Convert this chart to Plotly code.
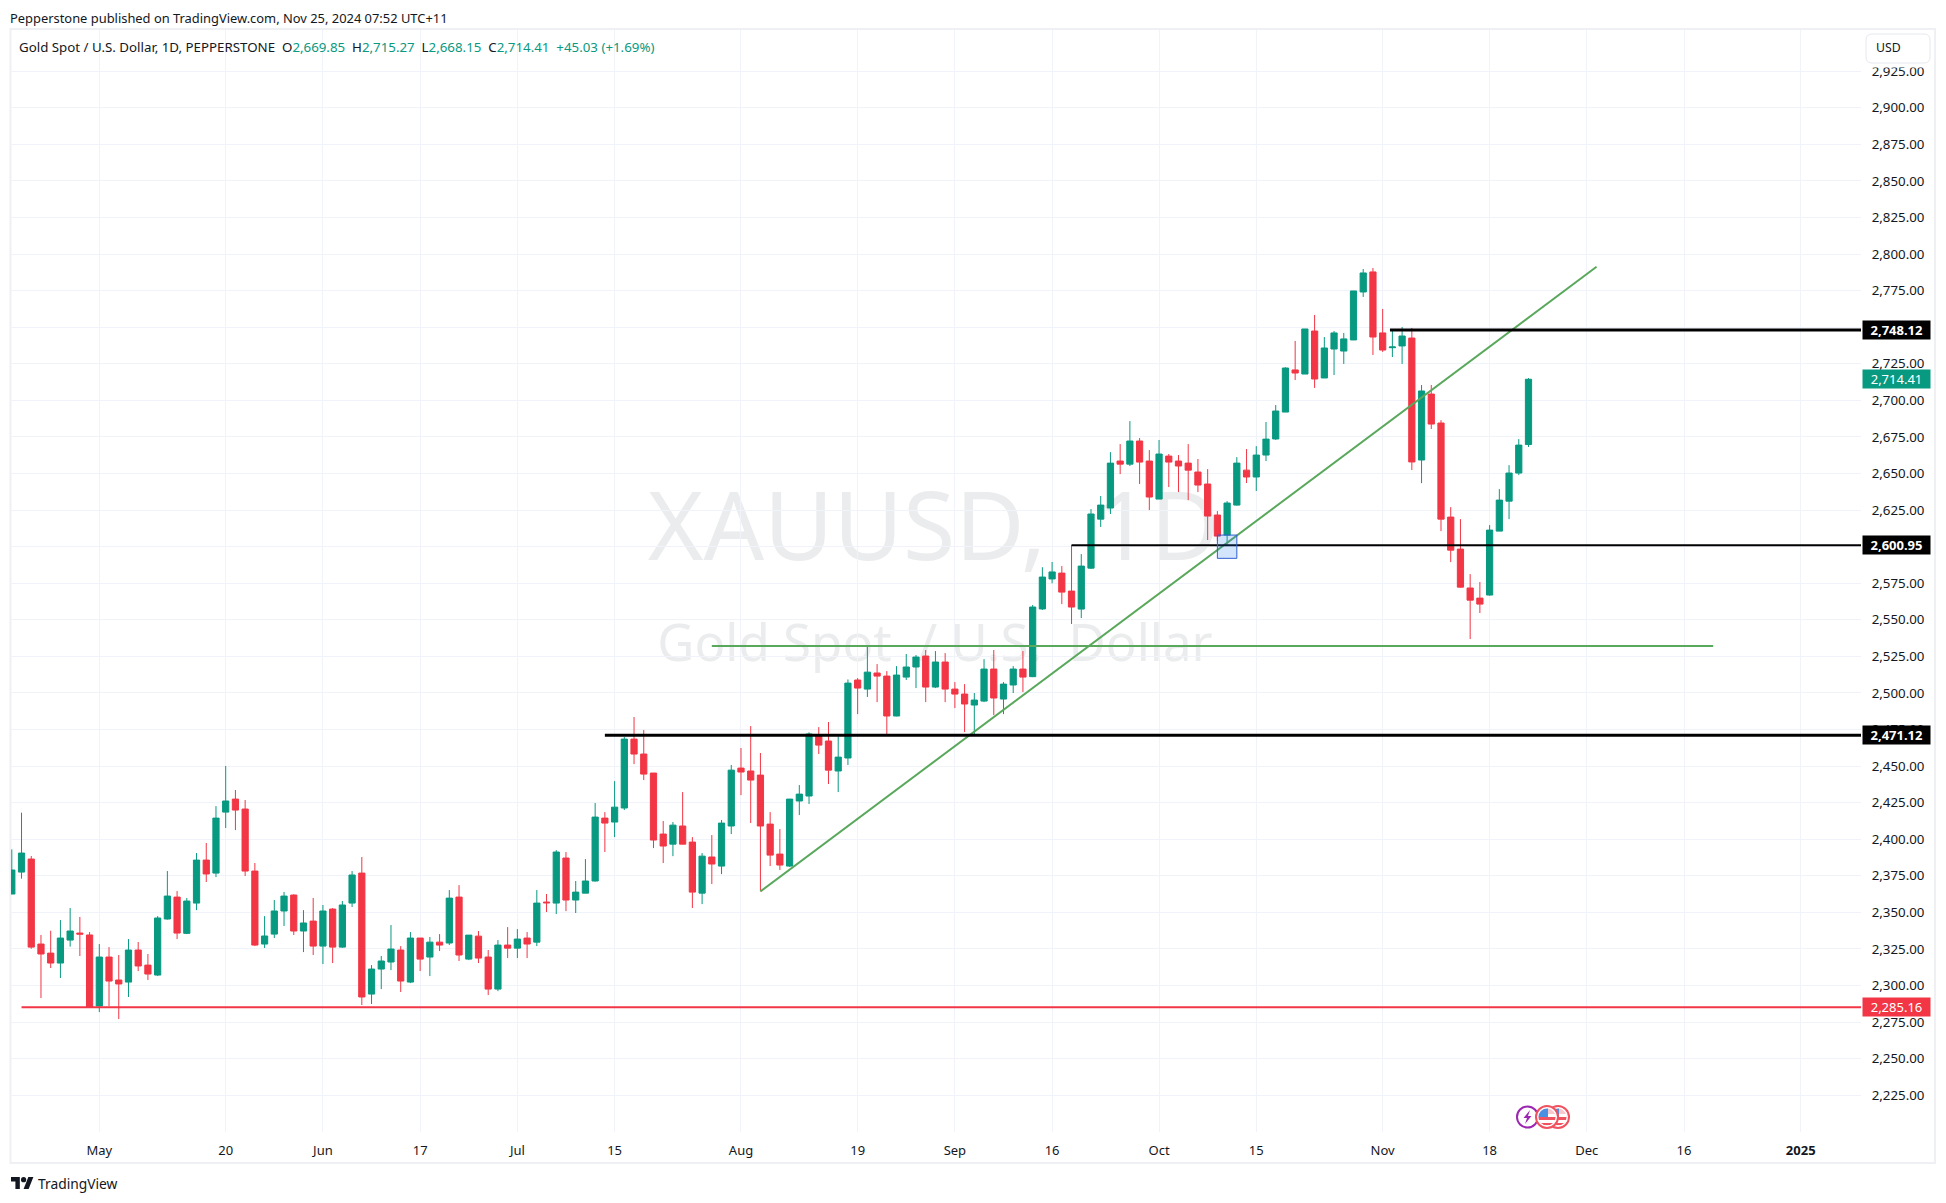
import pandas as pd
import plotly.graph_objects as go

# ---- data -----------------------------------------------------------------
open_ = [2362.5,2377.5,2386.4,2328.3,2322.1,2315.3,2331.0,2335.8,2334.5,2285.9,
2319.4,2303.7,2302.3,2324.2,2313.9,2307.1,2345.4,2360.4,2335.6,2356.3,
2385.7,2376.8,2418.5,2427.4,2420.6,2378.2,2328.3,2335.1,2350.9,2361.8,
2337.2,2344.0,2326.9,2352.2,2326.2,2356.3,2376.8,2294.1,2311.2,2316.0,
2324.2,2302.3,2332.4,2319.4,2329.6,2329.0,2360.4,2318.0,2333.7,2319.4,
2297.5,2327.6,2325.5,2332.4,2329.6,2357.0,2356.3,2387.1,2358.4,2363.1,
2371.4,2414.4,2411.7,2421.3,2468.4,2458.2,2445.2,2403.5,2396.6,2409.0,
2398.0,2363.1,2387.8,2381.6,2409.0,2448.6,2446.6,2443.8,2410.3,2389.8,
2381.6,2426.1,2429.5,2470.5,2467.1,2446.6,2455.5,2508.8,2502.6,2513.6,
2511.5,2484.2,2510.8,2517.7,2525.2,2504.0,2521.1,2502.6,2499.2,2491.7,
2494.4,2516.3,2495.8,2505.4,2516.3,2511.1,2557.4,2577.9,2581.9,2569.6,
2557.3,2585.3,2618.8,2626.4,2658.5,2656.4,2672.2,2658.5,2632.5,2661.9,
2658.5,2657.1,2651.0,2642.8,2621.6,2607.9,2628.4,2652.3,2647.6,2662.6,
2673.6,2692.0,2720.8,2718.0,2747.4,2715.3,2735.1,2733.7,2741.3,2774.1,
2787.8,2746.1,2736.0,2737.2,2742.6,2659.2,2704.3,2684.5,2620.2,2598.3,
2571.7,2564.8,2566.9,2610.6,2631.1,2650.3,2669.85]
high = [2393.0,2418.1,2388.5,2334.5,2337.4,2344.7,2352.9,2346.8,2336.5,2328.3,
2326.2,2320.8,2331.7,2329.7,2321.5,2347.4,2378.2,2364.5,2359.8,2390.5,
2397.4,2422.6,2450.0,2433.6,2426.8,2383.7,2347.4,2358.4,2363.9,2362.3,
2351.5,2359.8,2355.0,2352.9,2357.7,2378.2,2387.8,2313.9,2320.1,2341.3,
2326.9,2336.5,2332.4,2333.1,2335.1,2365.2,2368.6,2334.4,2337.2,2324.2,
2331.0,2339.9,2338.5,2336.5,2365.2,2362.5,2392.5,2391.2,2371.4,2386.4,
2424.7,2418.5,2439.7,2469.8,2483.5,2474.6,2445.2,2412.4,2411.7,2432.2,
2401.4,2390.5,2402.8,2413.1,2450.7,2462.3,2477.3,2458.9,2418.5,2406.9,
2427.4,2437.0,2473.0,2476.6,2480.1,2470.3,2509.2,2510.1,2532.0,2519.7,
2514.9,2518.3,2526.6,2525.9,2529.3,2528.6,2527.2,2507.4,2506.0,2499.9,
2523.1,2529.3,2507.4,2518.3,2528.6,2560.1,2585.9,2589.5,2586.7,2601.1,
2594.9,2625.7,2634.6,2664.6,2670.1,2685.8,2674.2,2666.0,2672.9,2663.3,
2662.6,2670.1,2659.9,2653.0,2624.3,2631.1,2661.2,2666.7,2668.7,2685.2,
2696.8,2722.6,2740.6,2748.8,2758.4,2743.3,2747.4,2746.1,2774.8,2789.8,
2790.5,2762.5,2748.1,2750.2,2749.5,2710.5,2710.5,2686.5,2627.0,2618.8,
2581.2,2575.8,2614.7,2639.3,2655.7,2673.5,2715.27]
low = [2362.5,2373.0,2325.1,2291.4,2311.9,2305.1,2326.5,2320.1,2285.0,2281.8,
2285.9,2277.0,2292.1,2309.8,2303.7,2306.4,2345.0,2331.7,2335.1,2351.5,
2370.7,2374.1,2407.6,2406.2,2374.8,2326.9,2325.6,2332.4,2340.6,2334.5,
2322.8,2320.8,2314.6,2315.3,2325.6,2353.6,2286.6,2287.3,2297.5,2310.5,
2295.5,2301.6,2309.8,2306.4,2323.5,2327.6,2316.7,2317.3,2315.3,2293.4,
2296.1,2318.7,2318.7,2318.7,2326.9,2350.2,2348.8,2350.8,2349.5,2363.1,
2371.0,2391.2,2401.4,2419.9,2451.3,2440.4,2393.9,2383.7,2388.4,2396.6,
2352.9,2355.6,2369.3,2376.1,2403.5,2430.1,2411.0,2364.3,2381.6,2378.9,
2381.0,2416.5,2424.0,2458.2,2437.7,2432.2,2450.7,2485.5,2497.2,2493.7,
2471.2,2484.0,2508.8,2503.3,2493.7,2503.3,2493.7,2489.6,2473.2,2471.2,
2493.7,2484.8,2485.5,2499.9,2500.6,2510.8,2556.7,2574.9,2560.7,2547.1,
2551.2,2584.7,2613.4,2622.3,2649.6,2655.1,2642.8,2625.0,2632.5,2640.7,
2637.3,2631.8,2637.3,2604.5,2604.0,2601.1,2628.0,2643.5,2638.0,2658.5,
2673.0,2692.0,2713.9,2718.0,2708.5,2715.3,2717.3,2724.9,2741.3,2770.7,
2731.0,2733.1,2729.6,2724.9,2652.4,2643.4,2680.4,2610.6,2589.4,2572.0,
2536.8,2554.6,2566.5,2610.6,2618.8,2648.9,2668.15]
close = [2378.9,2390.5,2326.2,2321.5,2315.3,2332.4,2337.2,2335.1,2285.2,2319.4,
2303.0,2301.0,2324.2,2313.3,2307.8,2346.1,2361.1,2335.8,2357.7,2385.7,
2376.2,2414.4,2426.1,2419.9,2378.2,2327.6,2333.8,2350.9,2361.1,2337.2,
2342.7,2326.9,2350.9,2326.2,2355.0,2375.5,2292.1,2311.2,2316.7,2324.9,
2303.0,2332.4,2318.0,2329.6,2327.6,2359.7,2320.8,2334.4,2318.7,2297.5,
2327.6,2325.5,2331.7,2328.3,2356.3,2356.5,2391.2,2358.4,2363.8,2371.4,
2415.1,2411.0,2421.9,2468.4,2458.2,2444.5,2399.4,2395.3,2409.6,2396.6,
2363.8,2388.4,2383.0,2411.0,2447.2,2445.9,2440.4,2409.0,2389.1,2382.3,
2427.4,2430.8,2471.9,2464.3,2447.2,2456.1,2506.7,2503.3,2514.2,2511.5,
2484.2,2512.2,2517.7,2524.5,2504.0,2521.1,2502.6,2499.2,2492.4,2495.1,
2516.3,2496.5,2506.0,2516.3,2510.8,2558.7,2579.2,2582.7,2568.9,2558.7,
2586.7,2622.3,2628.4,2657.1,2656.4,2672.2,2657.8,2633.9,2663.3,2657.8,
2655.1,2652.3,2642.1,2620.9,2607.2,2629.8,2657.1,2647.6,2662.6,2673.5,
2692.7,2722.1,2718.7,2748.8,2714.6,2735.8,2746.1,2742.0,2774.8,2787.1,
2743.3,2734.4,2736.5,2744.0,2657.9,2706.4,2683.8,2618.8,2597.6,2572.3,
2563.4,2560.7,2611.3,2631.8,2650.3,2669.4,2714.41]

dates = pd.bdate_range("2024-04-18", periods=len(close)) + pd.Timedelta(hours=12)

x_tick_dates = ["2024-05-01","2024-05-20","2024-06-03","2024-06-17","2024-07-01","2024-07-15",
                "2024-08-01","2024-08-19","2024-09-02","2024-09-16","2024-10-01","2024-10-15",
                "2024-11-01","2024-11-18","2024-12-02","2024-12-16","2025-01-01"]
x_tick_labels = ["May","20","Jun","17","Jul","15","Aug","19","Sep","16","Oct","15","Nov","18",
                 "Dec","16","<b>2025</b>"]
y_ticks = list(range(2225, 2950, 25))

level_high, level_mid, level_low, level_red = 2748.12, 2600.95, 2471.12, 2285.16
level_green = 2532.0
last_price = 2714.41
trend_x = ["2024-08-05 12:00", "2024-12-03 12:00"]
trend_y = [2364.3, 2791.3]
LEFT_EDGE, RIGHT_EDGE = "2024-04-18 10:00", "2025-01-09 16:48"

UP, DOWN, GREEN_LINE, GRID, INK = "#089981", "#f23645", "#5aa85c", "#f0f3fa", "#131722"
FONT = "Noto Sans"

# ---- page geometry --------------------------------------------------------
W, H = 1946, 1203
L, R, T, B = 11, 1861, 30, 1132
def px(x): return (x - L) / (R - L)
def py(y): return (B - y) / (B - T)
def poly(points):
    return "M" + " L".join(f"{px(x):.6f},{py(y):.6f}" for x, y in points) + " Z"

fig = go.Figure()
fig.add_trace(go.Candlestick(
    x=dates, open=open_, high=high, low=low, close=close,
    increasing=dict(line=dict(color=UP, width=1), fillcolor=UP),
    decreasing=dict(line=dict(color=DOWN, width=1), fillcolor=DOWN),
    whiskerwidth=0, hoverinfo="skip", showlegend=False, name="XAUUSD"))

def hline(x0, x1, y, color, width):
    fig.add_trace(go.Scatter(x=[x0, x1], y=[y, y], mode="lines", hoverinfo="skip", showlegend=False,
                             line=dict(color=color, width=width)))
hline("2024-07-29 12:00", "2024-12-19 12:00", level_green, GREEN_LINE, 2)
fig.add_trace(go.Scatter(x=trend_x, y=trend_y, mode="lines", hoverinfo="skip", showlegend=False,
                         line=dict(color=GREEN_LINE, width=2)))
hline("2024-11-04 06:00", RIGHT_EDGE, level_high, "#000000", 3)
hline("2024-09-18 12:00", RIGHT_EDGE, level_mid, "#000000", 2)
hline("2024-07-12 12:00", RIGHT_EDGE, level_low, "#000000", 3)
hline("2024-04-19 12:00", RIGHT_EDGE, level_red, DOWN, 2)

shapes = []
def rect_px(x0, y0, x1, y1, **kw):
    shapes.append(dict(type="rect", xref="paper", yref="paper", x0=px(x0), x1=px(x1), y0=py(y0), y1=py(y1), **kw))
def circle_px(cx, cy, r, **kw):
    shapes.append(dict(type="circle", xref="paper", yref="paper", x0=px(cx-r), x1=px(cx+r),
                       y0=py(cy+r), y1=py(cy-r), **kw))
def path_px(points, color):
    shapes.append(dict(type="path", xref="paper", yref="paper", path=poly(points), fillcolor=color, line=dict(width=0)))

# frame
rect_px(10.5, 29, 1935, 1163, line=dict(color="#eef0f4", width=2), layer="below")
# watermarks (drawn under the candles)
no_line = dict(width=0)
rect_px(600, 480, 1267, 580, line=no_line, fillcolor="rgba(0,0,0,0)", layer="below",
        label=dict(text="XAUUSD,\u00a0 1D", font=dict(family=FONT, size=95, color="#ebeced"),
                   textposition="middle center"))
rect_px(600, 612, 1270, 678, line=no_line, fillcolor="rgba(0,0,0,0)", layer="below",
        label=dict(text="Gold Spot\u00a0 / U.S.\u00a0 Dollar", font=dict(family=FONT, size=51, color="#ebeced"),
                   textposition="middle center"))
# position-tool box on the trend line
shapes.append(dict(type="rect", xref="x", yref="y", x0="2024-10-09 12:00", x1="2024-10-11 12:00",
                   y0=2592.0, y1=2607.9, fillcolor="rgba(33,120,243,0.2)", line=dict(color="#2f5fd0", width=1)))
# mask under the USD button that clips the top tick label, then the button
rect_px(1866, 60, 1930, 67.5, line=no_line, fillcolor="#ffffff")
x0, x1, y0, y1, r = 1866, 1930, 34, 63, 6
shapes.append(dict(type="path", xref="paper", yref="paper", fillcolor="#ffffff", line=dict(color="#e6e8ee", width=1),
    path=(f"M{px(x0+r)},{py(y0)} L{px(x1-r)},{py(y0)} Q{px(x1)},{py(y0)} {px(x1)},{py(y0+r)} "
          f"L{px(x1)},{py(y1-r)} Q{px(x1)},{py(y1)} {px(x1-r)},{py(y1)} L{px(x0+r)},{py(y1)} "
          f"Q{px(x0)},{py(y1)} {px(x0)},{py(y1-r)} L{px(x0)},{py(y0+r)} Q{px(x0)},{py(y0)} {px(x0+r)},{py(y0)} Z")))
# event icons
cy = 1117
circle_px(1527.5, cy, 10.5, fillcolor="#ffffff", line=dict(color="#9c27b0", width=2))
path_px([(1530,1110),(1523.5,1118),(1527,1118),(1525,1124),(1531.5,1116),(1528,1116)], "#9c27b0")
for cx in (1558, 1547):
    circle_px(cx, cy, 11, fillcolor="#ffffff", line=dict(color="#f0525f", width=2))
    circle_px(cx, cy, 8.5, fillcolor="#f7c9cd", line=dict(width=0))
    path_px([(cx-8.5,cy),(cx-8,cy-3),(cx-6,cy-6),(cx-3,cy-8),(cx+1,cy-8.5),(cx+1,cy)], "#4a90e2")
    path_px([(cx+1,cy-3),(cx+8,cy-3),(cx+8.5,cy),(cx+1,cy)], "#ffffff")
    path_px([(cx-8.5,cy),(cx+8.5,cy),(cx+8,cy+3),(cx-8,cy+3)], "#f0525f")
    path_px([(cx-8,cy+3),(cx+8,cy+3),(cx+6,cy+6),(cx-6,cy+6)], "#ffffff")
    path_px([(cx-6,cy+6),(cx+6,cy+6),(cx+3,cy+8),(cx-3,cy+8)], "#f0525f")
# TradingView logo
def lx(v): return 11 + v * 0.63
def ly(v): return 1177 + (v - 4) * 0.66
path_px([(lx(0),ly(4)),(lx(14),ly(4)),(lx(14),ly(22)),(lx(7),ly(22)),(lx(7),ly(11)),(lx(0),ly(11))], INK)
path_px([(lx(20),ly(22)),(lx(27.5),ly(4)),(lx(35.5),ly(4)),(lx(28),ly(22))], INK)
circle_px(lx(20), ly(8), 2.6, fillcolor=INK, line=dict(width=0))

annotations = []
def text_px(x, y, text, size, color=INK, anchor="left"):
    annotations.append(dict(xref="paper", yref="paper", x=px(x), y=py(y), text=text, showarrow=False,
                            xanchor=anchor, yanchor="middle", align="left",
                            font=dict(family=FONT, size=size, color=color)))
text_px(8, 18, "Pepperstone published on TradingView.com, Nov 25, 2024 07:52 UTC+11", 12.9)
g = lambda s: f'<span style="color:{UP}">{s}</span>'
text_px(17, 47, "Gold Spot / U.S. Dollar, 1D, PEPPERSTONE\u00a0 O" + g("2,669.85") + "\u00a0 H" + g("2,715.27")
        + "\u00a0 L" + g("2,668.15") + "\u00a0 C" + g("2,714.41") + "\u00a0 " + g("+45.03 (+1.69%)"), 13.3)
text_px(1874, 48, "USD", 12.3)
text_px(36, 1183, "TradingView", 13.8)

def price_tag(value, text, bg):
    annotations.append(dict(xref="paper", yref="y", x=px(1862), y=value, text=text, showarrow=False,
                            xanchor="left", yanchor="middle", width=67, height=18, align="center", borderpad=0,
                            bgcolor=bg, font=dict(family=FONT, size=13, color="#ffffff")))
price_tag(level_high, "<b>2,748.12</b>", "#000000")
price_tag(last_price, "2,714.41", UP)
price_tag(level_mid, "<b>2,600.95</b>", "#000000")
price_tag(level_low, "<b>2,471.12</b>", "#000000")
price_tag(level_red, "2,285.16", DOWN)

fig.update_layout(
    width=W, height=H, autosize=False,
    margin=dict(l=L, r=W - R, t=T, b=H - B, pad=0),
    paper_bgcolor="#ffffff", plot_bgcolor="#ffffff",
    boxgap=0.36, boxgroupgap=0, showlegend=False,
    shapes=shapes, annotations=annotations,
    xaxis=dict(type="date", range=[LEFT_EDGE, RIGHT_EDGE], rangeslider=dict(visible=False),
               rangebreaks=[dict(bounds=["sat", "mon"])],
               tickmode="array", tickvals=[d + " 12:00" for d in x_tick_dates], ticktext=x_tick_labels,
               showgrid=True, gridcolor=GRID, gridwidth=1, zeroline=False, showline=False,
               ticks="outside", ticklen=6, tickcolor="rgba(0,0,0,0)",
               tickfont=dict(family=FONT, size=13, color=INK)),
    yaxis=dict(range=[2199.8, 2953.2], side="right", tickmode="array", tickvals=y_ticks, tickformat=",.2f",
               showgrid=True, gridcolor=GRID, gridwidth=1, zeroline=False, showline=False,
               ticks="outside", ticklen=7, tickcolor="rgba(0,0,0,0)",
               tickfont=dict(family=FONT, size=13.3, color=INK)),
)

fig.write_html("out.html", config=dict(displayModeBar=False, staticPlot=True),
               post_script="document.body.style.margin='0';")
